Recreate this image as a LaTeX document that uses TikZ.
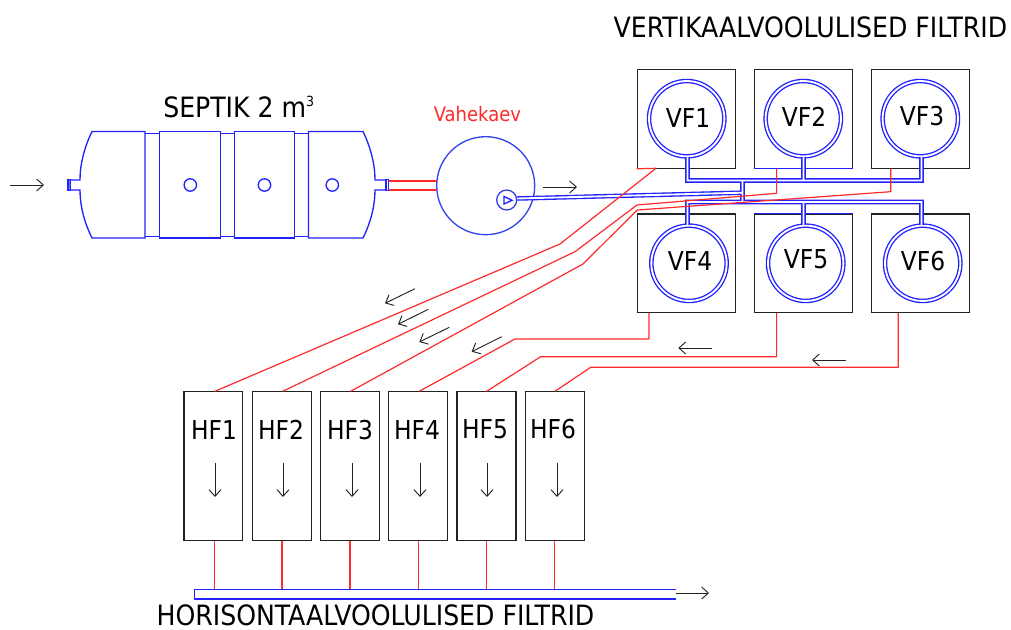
\documentclass[tikz,border=0pt]{standalone}
\usepackage{fontspec}
\setmainfont{DejaVu Sans Condensed}
\usetikzlibrary{arrows.meta}
\definecolor{pblue}{HTML}{2222FF}
\definecolor{tblue}{HTML}{3344EE}
\definecolor{pred}{HTML}{FF2A2A}
\definecolor{pblack}{HTML}{222222}
\tikzset{
  box/.style={draw=pblack,line width=.9pt,fill=white,inner sep=0pt},
  vfbox/.style={box,minimum width=73.5pt,minimum height=73.8pt},
  hfbox/.style={box,minimum width=44.2pt,minimum height=111.2pt},
  vfring/.style={circle,draw=pblue,line width=1pt,double=white,double distance=1.4pt,minimum size=56.5pt,inner sep=0pt},
  pipe/.style={draw=pblue,line width=1pt,double=white,double distance=1.4pt,line join=miter},
  tank/.style={draw=pblue,line width=1pt,line join=miter},
  redline/.style={draw=pred,line width=.9pt,line join=round},
  flow/.style={draw=pblack,line width=.7pt,-{Straight Barb[length=5pt,width=9pt,line width=.7pt]}},
  lab/.style={inner sep=0pt,font=\fontsize{19.5pt}{19.5pt}\selectfont,text=black},
  title/.style={inner sep=0pt,font=\fontsize{21pt}{21pt}\selectfont,text=black},
}
\begin{document}
\begin{tikzpicture}[x=.75pt,y=-.75pt]
\useasboundingbox (0,0) rectangle (1011,630);
% septic tank
\draw[tank] (145,131.5) -- (92,131.5) .. controls (84,148) and (80,165) .. (80,180) -- (70,180) -- (70,190) -- (80,190) .. controls (80,205) and (84,222) .. (92,238) -- (145,238) -- cycle;
\draw[tank] (145,133.5) -- (159.5,133.5) (145,236.5) -- (159.5,236.5);
\draw[tank] (159.5,131.5) rectangle (220.5,238);
\draw[tank] (220.5,133.5) -- (234.5,133.5) (220.5,236.5) -- (234.5,236.5);
\draw[tank] (234.5,131.5) rectangle (294.5,238);
\draw[tank] (294.5,133.5) -- (308.5,133.5) (294.5,236.5) -- (308.5,236.5);
\draw[tank] (308.5,131.5) -- (363,131.5) .. controls (371,148) and (375,165) .. (375,180) -- (386,180) -- (386,190) -- (375,190) .. controls (375,205) and (371,222) .. (363,238) -- (308.5,238) -- cycle;
\draw[tank] (68,179.5) rectangle (70.5,190.5);
\draw[tank] (386,179.5) rectangle (388.5,190.5);
\draw[tank] (190.3,185) circle (6.2);
\draw[tank] (264.5,185) circle (6.2);
\draw[tank] (332.3,185) circle (6.2);
% tank
\node[circle,draw=tblue,line width=1pt,minimum size=73.5pt,inner sep=0pt] (kaev) at (485.7,185.7) {};
\node[circle,draw=tblue,line width=1pt,fill=white,minimum size=15pt,inner sep=0pt] (pump) at (506.7,200) {};
\draw[tank] (504,196.5) -- (504,204) -- (512,200.3) -- cycle;
\coordinate (sepA) at (388.5,181);
\coordinate (sepB) at (388.5,190);
\coordinate (kaevA) at (437.3,181);
\coordinate (kaevB) at (437.3,190);
\draw[redline] (sepA) -- (kaevA) (sepB) -- (kaevB);
% VF boxes
\node[vfbox] (b1) at (686.3,119) {};
\node[vfbox] (b2) at (803.3,119) {};
\node[vfbox] (b3) at (920.2,119) {};
\node[vfbox] (b4) at (686.3,263.3) {};
\node[vfbox] (b5) at (803.3,263.3) {};
\node[vfbox] (b6) at (920.2,263.3) {};
\draw[pblue,line width=.9pt] (b2.south west) -- (b2.south east);
\draw[pblue,line width=.9pt] (b5.north west) -- (b5.north east);
% rings
\node[vfring] (c1) at (686.7,118.7) {};
\node[vfring] (c2) at (803.3,118.7) {};
\node[vfring] (c3) at (920.3,118.7) {};
\node[vfring] (c4) at (689,263.3) {};
\node[vfring] (c5) at (805.7,263.3) {};
\node[vfring] (c6) at (922.7,263.3) {};
\node[lab] (t1) at (688,118) {VF1};
\node[lab] (t2) at (804,117) {VF2};
\node[lab] (t3) at (922,116) {VF3};
\node[lab] (t4) at (690,261) {VF4};
\node[lab] (t5) at (806,259) {VF5};
\node[lab] (t6) at (923,261) {VF6};
% manifold
\coordinate (m1) at (742.5,180.5);
\coordinate (m2) at (742.5,202);
\coordinate (m3) at (742.5,192.7);
\draw[pipe]
  (c1.south -| 687.5,0) -- (687.5,180.5) -- (921.5,180.5) -- (c3.south -| 921.5,0)
  (c2.south -| 803.5,0) -- (803.5,180.5)
  (m1) -- (m2)
  (c4.north -| 687.5,0) -- (687.5,202) -- (921.5,202) -- (c6.north -| 921.5,0)
  (c5.north -| 803.5,0) -- (803.5,202)
  (pump.east) ++(0,-1.5) -- (m3);
% HF boxes
\node[hfbox] (h1) at (213.4,466) {};
\node[hfbox] (h2) at (281.8,466) {};
\node[hfbox] (h3) at (350.2,466) {};
\node[hfbox] (h4) at (418.2,466) {};
\node[hfbox] (h5) at (486.5,466) {};
\node[hfbox] (h6) at (554.8,466) {};
\node[lab] (ht1) at (214,430) {HF1};
\node[lab] (ht2) at (281,430) {HF2};
\node[lab] (ht3) at (350,430) {HF3};
\node[lab] (ht4) at (417,430) {HF4};
\node[lab] (ht5) at (485,429) {HF5};
\node[lab] (ht6) at (553,429) {HF6};
% collector
\draw[draw=pblue,line width=1pt] (676,589.5) -- (194.5,589.5) -- (194.5,599) -- (676,599);
\foreach \i/\x in {1/214.5,2/282,3/350,4/418.5,5/486.5,6/554.5}{
  \coordinate (cb\i) at (\x,589.5);
  \draw[redline] (h\i.south -| \x,0) -- (cb\i);
}
% red lines
\draw[redline] (b1.south west) -- (656,168.3) -- (560,244) -- (h1.north -| 215,0);
\draw[redline] (b2.south -| 776.6,0) -- (776.6,193.3) -- (637,205) -- (575,251.7) -- (h2.north -| 282.7,0);
\draw[redline] (b3.south -| 890.7,0) -- (890.7,191.7) -- (637.3,210) -- (583,264) -- (h3.north -| 350.7,0);
\draw[redline] (b4.south -| 649,0) -- (649,339) -- (515,339) -- (h4.north -| 419.3,0);
\draw[redline] (b5.south -| 776.6,0) -- (776.6,356.7) -- (540.7,356.7) -- (h5.north -| 486.7,0);
\draw[redline] (b6.south -| 898.3,0) -- (898.3,367.3) -- (590.7,367.3) -- (h6.north -| 555,0);
% flow arrows
\draw[flow] (10,185) -- (44,185);
\draw[flow] (543,187) -- (577,187);
\draw[flow] (415,288.7) -- (385,303.3);
\draw[flow] (428.3,309.3) -- (398,324.3);
\draw[flow] (449.3,327.3) -- (419.3,342);
\draw[flow] (501.7,336.7) -- (471.7,351.7);
\draw[flow] (711.7,348) -- (678.3,348);
\draw[flow] (846,360) -- (812,360);
\draw[flow] (676,593) -- (709,593);
\foreach \x in {215,283,352,420,487,557} \draw[flow] (\x,463) -- (\x,497);
% titles
\node[title] (tv) at (810.5,27) {VERTIKAALVOOLULISED FILTRID};
\node[title] (th) at (375.5,615.5) {HORISONTAALVOOLULISED FILTRID};
\node[title,anchor=west] (ts) at (163,107) {SEPTIK 2 m\raisebox{.7ex}{\fontsize{10.5pt}{10.5pt}\selectfont 3}};
\node[inner sep=0pt,text=pred,font=\fontsize{15pt}{15pt}\selectfont] (tk) at (477.5,114) {Vahekaev};
\end{tikzpicture}
\end{document}
